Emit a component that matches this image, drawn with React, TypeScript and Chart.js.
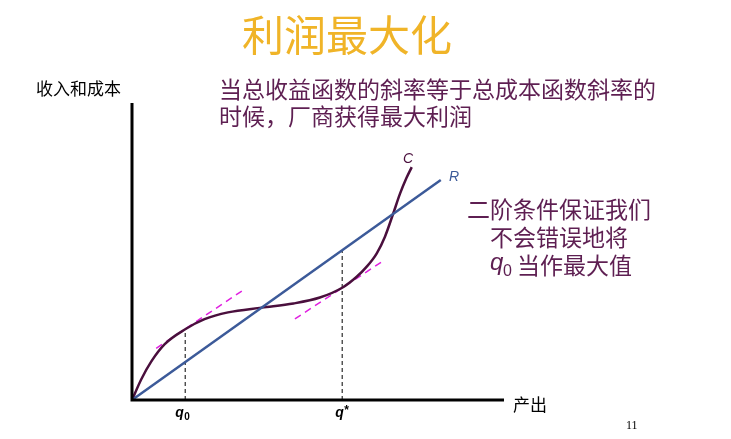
import React, { useEffect, useRef } from "react";
import { Chart, registerables } from "chart.js";

Chart.register(...registerables);

// Data (x: output q, y: revenue/cost)
const costX = [0, 0.25, 0.52, 0.88, 1.43, 1.95, 2.58, 3.49, 4.34, 5.05, 5.65, 6.04, 6.31, 6.58, 6.8, 7.02, 7.2, 7.38, 7.52];
const costY = [0, 0.7, 1.3, 1.88, 2.38, 2.72, 2.95, 3.11, 3.25, 3.45, 3.78, 4.15, 4.49, 4.94, 5.5, 6.27, 6.93, 7.48, 7.84];
const revenueX = [0, 8.3];
const revenueY = [0, 7.41];
const q0 = 1.43;
const qStar = 5.65;
const q0Cost = 2.38;
const qStarRevenue = 5.04;
const tangent1X = [0.65, 2.99];
const tangent1Y = [1.74, 3.7];
const tangent2X = [4.38, 6.76];
const tangent2Y = [2.73, 4.69];
const xMax = 10;
const yMax = 10;

const titleText = "利润最大化";
const subtitleLines = ["当总收益函数的斜率等于总成本函数斜率的", "时候，厂商获得最大利润"];
const noteLines = ["二阶条件保证我们", "不会错误地将", "当作最大值"];
const yLabel = "收入和成本";
const xLabel = "产出";
const pageNo = "11";

const pts = (xs: number[], ys: number[]) => xs.map((x, i) => ({ x, y: ys[i] }));

const CJK = '"Noto Sans CJK SC", sans-serif';
const PURPLE_TEXT = "#5e1f52";

const textPlugin = {
  id: "slideText",
  afterDraw(chart: any) {
    const ctx = chart.ctx as CanvasRenderingContext2D;
    const { left, right, top, bottom } = chart.chartArea;
    const xs = chart.scales.x;
    ctx.save();
    // axes
    ctx.strokeStyle = "#000";
    ctx.lineWidth = 3;
    ctx.beginPath();
    ctx.moveTo(left, top);
    ctx.lineTo(left, bottom);
    ctx.lineTo(right, bottom);
    ctx.stroke();

    ctx.textBaseline = "middle";
    // title
    ctx.fillStyle = "#f0b428";
    ctx.font = `42px ${CJK}`;
    ctx.textAlign = "left";
    ctx.fillText(titleText, 242, 35);
    // subtitle
    ctx.fillStyle = PURPLE_TEXT;
    ctx.font = `23px ${CJK}`;
    ctx.fillText(subtitleLines[0], 219, 89);
    ctx.fillText(subtitleLines[1], 219, 116);
    // note
    ctx.fillText(noteLines[0], 467, 209);
    ctx.fillText(noteLines[1], 490, 237);
    ctx.font = `italic 24px "Liberation Sans", Arial, sans-serif`;
    ctx.fillText("q", 490, 263);
    ctx.font = `16px "Liberation Sans", Arial, sans-serif`;
    ctx.fillText("0", 503, 272);
    ctx.font = `23px ${CJK}`;
    ctx.fillText(noteLines[2], 517, 265);

    // axis labels
    ctx.fillStyle = "#000";
    ctx.font = `17px ${CJK}`;
    ctx.fillText(yLabel, 36, 89);
    ctx.fillText(xLabel, 513, 405);
    ctx.font = `12px "Liberation Serif", serif`;
    ctx.fillText(pageNo, 626, 426);

    // curve labels
    ctx.font = `italic 14px "Liberation Sans", Arial, sans-serif`;
    ctx.fillStyle = "#4a0f3d";
    ctx.fillText("C", 403, 159);
    ctx.fillStyle = "#3c5a99";
    ctx.fillText("R", 449, 177);

    // tick labels
    ctx.fillStyle = "#000";
    const px0 = xs.getPixelForValue(q0);
    const pxS = xs.getPixelForValue(qStar);
    const ty = bottom + 14;
    ctx.font = `bold italic 14px "Liberation Sans", Arial, sans-serif`;
    ctx.fillText("q", px0 - 10, ty - 1);
    ctx.font = `bold 10px "Liberation Sans", Arial, sans-serif`;
    ctx.fillText("0", px0 - 1, ty + 3);
    ctx.font = `bold italic 14px "Liberation Sans", Arial, sans-serif`;
    ctx.fillText("q", pxS - 7, ty - 1);
    ctx.font = `bold 12px "Liberation Sans", Arial, sans-serif`;
    ctx.fillText("*", pxS + 2, ty - 3);
    ctx.restore();
  },
};

export default function App() {
  const ref = useRef<HTMLCanvasElement | null>(null);
  useEffect(() => {
    if (!ref.current) return;
    const chart = new Chart(ref.current, {
      type: "scatter",
      data: {
        datasets: [
          {
            label: "R",
            data: pts(revenueX, revenueY),
            showLine: true,
            borderColor: "#3c5a99",
            borderWidth: 2.5,
            pointRadius: 0,
          },
          {
            label: "C",
            data: pts(costX, costY),
            showLine: true,
            borderColor: "#4a0f3d",
            borderWidth: 2.5,
            pointRadius: 0,
            cubicInterpolationMode: "monotone",
          },
          {
            label: "t1",
            data: pts(tangent1X, tangent1Y),
            showLine: true,
            borderColor: "#e020e0",
            borderWidth: 1.5,
            borderDash: [7, 5],
            pointRadius: 0,
          },
          {
            label: "t2",
            data: pts(tangent2X, tangent2Y),
            showLine: true,
            borderColor: "#e020e0",
            borderWidth: 1.5,
            borderDash: [7, 5],
            pointRadius: 0,
          },
          {
            label: "q0",
            data: [{ x: q0, y: 0 }, { x: q0, y: q0Cost }],
            showLine: true,
            borderColor: "#000",
            borderWidth: 1,
            borderDash: [4, 3],
            pointRadius: 0,
          },
          {
            label: "q*",
            data: [{ x: qStar, y: 0 }, { x: qStar, y: qStarRevenue }],
            showLine: true,
            borderColor: "#000",
            borderWidth: 1,
            borderDash: [4, 3],
            pointRadius: 0,
          },
        ] as any,
      },
      options: {
        animation: false,
        responsive: false,
        layout: { padding: { left: 132, top: 103, right: 227, bottom: 39 } },
        plugins: { legend: { display: false }, tooltip: { enabled: false }, title: { display: false } },
        elements: { line: { tension: 0 } },
        scales: {
          x: { type: "linear", min: 0, max: xMax, display: false },
          y: { type: "linear", min: 0, max: yMax, display: false },
        },
        clip: false as any,
      },
      plugins: [textPlugin],
    });
    return () => chart.destroy();
  }, []);
  return (
    <div style={{ position: "fixed", left: 0, top: 0, width: 731, height: 439, background: "#fff" }}>
      <canvas ref={ref} width={731} height={439} style={{ width: 731, height: 439 }} />
    </div>
  );
}
